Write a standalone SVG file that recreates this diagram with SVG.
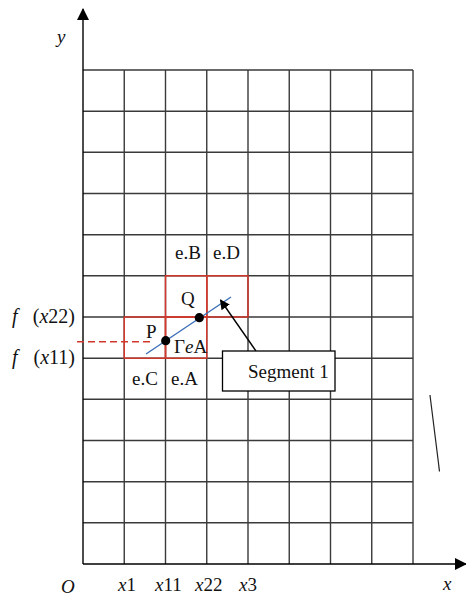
<svg xmlns="http://www.w3.org/2000/svg" width="466" height="597" viewBox="0 0 466 597">
<defs>
<style>
.grid{stroke:#3a3a3a;stroke-width:1.4;fill:none}
.red{stroke:#d2392c;stroke-width:1.5;fill:none}
.axis{stroke:#000;stroke-width:1.4;fill:none}
text{font-family:"Liberation Serif","Times New Roman",serif;font-size:19px;fill:#111}
.it{font-style:italic}
.fl{font-size:20px}
</style>
<marker id="ah" markerWidth="10" markerHeight="10" refX="9" refY="5" orient="auto" markerUnits="userSpaceOnUse">
<path d="M0,0 L10,5 L0,10 Z" fill="#000"/>
</marker>
<marker id="ax" markerWidth="12" markerHeight="12" refX="11" refY="6" orient="auto" markerUnits="userSpaceOnUse">
<path d="M0,0 L12,6 L0,12 Z" fill="#000"/>
</marker>
</defs>
<rect width="466" height="597" fill="#fff"/>
<g id="grid">
<path class="grid" d="M124.25,70V564 M165.5,70V564 M206.75,70V564 M248,70V564 M289.25,70V564 M330.5,70V564 M371.75,70V564 M413,70V564
M83,70H413 M83,111.2H413 M83,152.3H413 M83,193.5H413 M83,234.7H413 M83,275.8H413 M83,317H413 M83,358.2H413 M83,399.3H413 M83,440.5H413 M83,481.7H413 M83,522.8H413"/>
</g>
<g id="axes">
<line class="axis" x1="83" y1="564" x2="83" y2="9" marker-end="url(#ax)"/>
<line class="axis" x1="83" y1="564" x2="466" y2="564" marker-end="url(#ax)"/>
<text class="it" x="57" y="43">y</text>
<text class="it" x="61" y="593">O</text>
<text x="118" y="591"><tspan class="it">x</tspan>1</text>
<text x="155" y="591"><tspan class="it">x</tspan>11</text>
<text x="195" y="591"><tspan class="it">x</tspan>22</text>
<text x="239" y="591"><tspan class="it">x</tspan>3</text>
<text class="it" x="443" y="590">x</text>
<text class="fl it" x="12" y="323">f</text>
<text class="fl" x="75" y="323" text-anchor="end">(<tspan class="it">x</tspan>22)</text>
<text class="fl it" x="12" y="364">f</text>
<text class="fl" x="75" y="364" text-anchor="end">(<tspan class="it">x</tspan>11)</text>
</g>
<g id="cells">
<rect class="red" x="165.5" y="275.8" width="41.25" height="41.2"/>
<rect class="red" x="206.75" y="275.8" width="41.25" height="41.2"/>
<rect class="red" x="124.25" y="317" width="41.25" height="41.2"/>
<rect class="red" x="165.5" y="317" width="41.25" height="41.2"/>
<text x="175" y="259">e.B</text>
<text x="213" y="259">e.D</text>
<text x="132" y="385">e.C</text>
<text x="171" y="385">e.A</text>
</g>
<g id="connectors">
<line x1="77" y1="341.7" x2="150" y2="341.7" stroke="#d2392c" stroke-width="1.4" stroke-dasharray="7,4"/>
<line x1="146" y1="354" x2="231" y2="297" stroke="#3b6fb6" stroke-width="1.4"/>
<line x1="256" y1="351" x2="220.5" y2="300" stroke="#000" stroke-width="1.4" marker-end="url(#ah)"/>
<line x1="430" y1="395" x2="439.5" y2="471.5" stroke="#222" stroke-width="1.2"/>
</g>
<g id="P">
<circle cx="165.7" cy="340.7" r="4.6" fill="#000"/>
<text x="146" y="338">P</text>
</g>
<g id="Q">
<circle cx="199.3" cy="317.7" r="4.6" fill="#000"/>
<text x="181" y="305">Q</text>
</g>
<g id="GeA">
<text x="174" y="353">Γ<tspan class="it">e</tspan>A</text>
</g>
<g id="segment1">
<rect x="222.5" y="351" width="112.5" height="40" fill="#fff" stroke="#000" stroke-width="1.3"/>
<text x="248" y="378">Segment 1</text>
</g>
</svg>
